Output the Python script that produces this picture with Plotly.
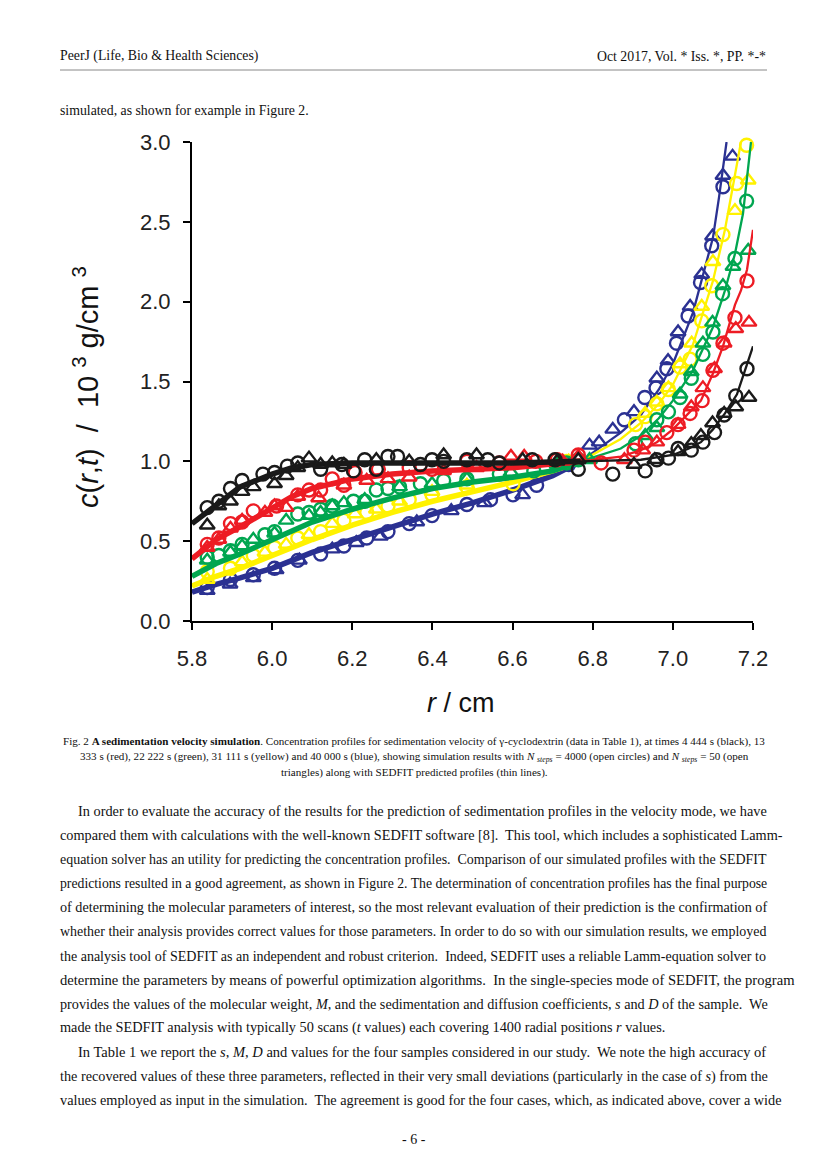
import plotly.graph_objects as go

# ---------------------------------------------------------------------------
# Data: r in cm, c in 10^3 g/cm^3
# ---------------------------------------------------------------------------
# SEDFIT predicted profiles (lines)
black_line_r = [5.80, 5.86, 5.92, 6.00, 6.05, 6.10, 6.20, 6.40, 6.60, 6.77, 6.92, 7.00, 7.04, 7.07, 7.10, 7.13, 7.16, 7.18, 7.20]
black_line_c = [0.61, 0.73, 0.84, 0.92, 0.96, 0.98, 0.99, 0.99, 0.99, 1.00, 1.01, 1.04, 1.08, 1.12, 1.20, 1.30, 1.42, 1.57, 1.72]

red_line_r = [5.80, 5.86, 5.92, 6.00, 6.05, 6.10, 6.20, 6.30, 6.40, 6.60, 6.70, 6.77, 6.87, 6.92, 6.96, 7.00, 7.04, 7.07, 7.10, 7.125, 7.155, 7.17, 7.185, 7.20]
red_line_c = [0.39, 0.51, 0.59, 0.71, 0.78, 0.83, 0.89, 0.92, 0.94, 0.96, 0.98, 1.00, 1.03, 1.07, 1.12, 1.20, 1.30, 1.38, 1.55, 1.72, 1.98, 2.07, 2.20, 2.45]

green_line_r = [5.80, 5.86, 5.92, 6.00, 6.10, 6.20, 6.30, 6.40, 6.50, 6.60, 6.70, 6.77, 6.87, 6.92, 6.965, 7.00, 7.05, 7.10, 7.13, 7.155, 7.175, 7.195]
green_line_c = [0.28, 0.36, 0.42, 0.51, 0.62, 0.70, 0.77, 0.83, 0.87, 0.90, 0.94, 1.00, 1.08, 1.16, 1.27, 1.38, 1.57, 1.84, 2.07, 2.30, 2.55, 3.00]

yellow_line_r = [5.80, 5.86, 5.92, 6.00, 6.10, 6.20, 6.30, 6.40, 6.50, 6.60, 6.70, 6.77, 6.87, 6.92, 6.965, 7.00, 7.05, 7.10, 7.13, 7.155, 7.17]
yellow_line_c = [0.22, 0.28, 0.33, 0.41, 0.51, 0.60, 0.68, 0.75, 0.81, 0.87, 0.94, 1.00, 1.14, 1.24, 1.36, 1.48, 1.73, 2.13, 2.45, 2.78, 3.00]

blue_line_r = [5.80, 5.86, 5.92, 6.00, 6.10, 6.20, 6.30, 6.40, 6.50, 6.60, 6.70, 6.77, 6.87, 6.92, 6.965, 7.00, 7.05, 7.10, 7.115, 7.134]
blue_line_c = [0.18, 0.23, 0.27, 0.33, 0.43, 0.51, 0.59, 0.67, 0.74, 0.82, 0.91, 1.00, 1.18, 1.29, 1.45, 1.61, 1.93, 2.40, 2.65, 3.00]

# N_steps = 4000 (open circles)
black_circ_r = [5.838, 5.867, 5.896, 5.925, 5.977, 6.006, 6.038, 6.064, 6.121, 6.174, 6.203, 6.231, 6.260, 6.289, 6.313, 6.370, 6.399, 6.428,
                6.486, 6.538, 6.567, 6.649, 6.706, 6.764, 6.850, 6.931, 6.960, 6.989, 7.013, 7.046, 7.075, 7.104, 7.128, 7.157, 7.185]
black_circ_c = [0.71, 0.75, 0.83, 0.88, 0.92, 0.93, 0.97, 0.99, 0.95, 0.98, 0.94, 1.01, 0.95, 1.03, 1.03, 0.98, 1.01, 1.00,
                1.01, 1.01, 0.99, 1.01, 1.01, 0.95, 0.92, 0.94, 1.01, 1.02, 1.08, 1.07, 1.12, 1.18, 1.29, 1.41, 1.58]

red_circ_r = [5.838, 5.867, 5.896, 5.925, 5.953, 6.011, 6.064, 6.092, 6.121, 6.150, 6.179, 6.207, 6.265, 6.342, 6.399, 6.486,
              6.567, 6.658, 6.711, 6.764, 6.821, 6.903, 6.931, 6.985, 7.013, 7.043, 7.073, 7.100, 7.125, 7.155, 7.185]
red_circ_c = [0.48, 0.52, 0.61, 0.62, 0.69, 0.72, 0.79, 0.82, 0.82, 0.89, 0.85, 0.93, 0.95, 0.96, 0.95, 1.00,
              0.99, 1.00, 1.01, 1.04, 0.99, 1.07, 1.12, 1.18, 1.23, 1.30, 1.38, 1.57, 1.74, 1.90, 2.13]

green_circ_r = [5.838, 5.867, 5.896, 5.925, 5.982, 6.006, 6.064, 6.092, 6.121, 6.150, 6.203, 6.231, 6.260, 6.289, 6.318, 6.370,
                6.428, 6.486, 6.567, 6.653, 6.735, 6.764, 6.907, 6.960, 6.989, 7.018, 7.046, 7.075, 7.100, 7.124, 7.155, 7.184]
green_circ_c = [0.40, 0.41, 0.44, 0.48, 0.54, 0.56, 0.67, 0.68, 0.70, 0.72, 0.75, 0.75, 0.82, 0.83, 0.84, 0.86,
                0.88, 0.89, 0.92, 0.94, 0.99, 1.01, 1.11, 1.26, 1.31, 1.40, 1.52, 1.67, 1.81, 2.05, 2.27, 2.63]

yellow_circ_r = [5.838, 5.896, 5.953, 6.006, 6.064, 6.121, 6.179, 6.236, 6.289, 6.342, 6.399, 6.486, 6.601, 6.735,
                 6.907, 6.931, 6.960, 6.989, 7.018, 7.043, 7.072, 7.097, 7.125, 7.159, 7.184]
yellow_circ_c = [0.31, 0.33, 0.41, 0.46, 0.52, 0.56, 0.63, 0.68, 0.72, 0.76, 0.79, 0.84, 0.86, 1.00,
                 1.23, 1.28, 1.36, 1.45, 1.59, 1.64, 1.88, 2.10, 2.42, 2.74, 2.98]

blue_circ_r = [5.838, 5.896, 5.953, 6.006, 6.064, 6.121, 6.179, 6.236, 6.289, 6.342, 6.399, 6.486, 6.545, 6.601, 6.660,
               6.740, 6.879, 6.930, 6.958, 6.985, 7.009, 7.038, 7.069, 7.097, 7.125]
blue_circ_c = [0.21, 0.26, 0.29, 0.33, 0.38, 0.42, 0.47, 0.52, 0.56, 0.61, 0.66, 0.73, 0.76, 0.79, 0.85,
               0.98, 1.26, 1.40, 1.46, 1.58, 1.74, 1.91, 2.12, 2.35, 2.72]

# N_steps = 50 (open triangles)
black_tri_r = [5.838, 5.867, 5.896, 5.925, 5.953, 6.006, 6.035, 6.064, 6.092, 6.121, 6.150, 6.179, 6.260, 6.342, 6.428, 6.510,
               6.625, 6.711, 6.764, 6.903, 6.955, 7.013, 7.046, 7.070, 7.099, 7.128, 7.157, 7.190]
black_tri_c = [0.60, 0.72, 0.75, 0.81, 0.84, 0.86, 0.91, 0.96, 1.02, 0.98, 0.99, 0.98, 1.01, 1.00, 1.04, 1.04,
               1.01, 1.00, 1.01, 0.98, 1.01, 1.06, 1.11, 1.16, 1.24, 1.30, 1.34, 1.40]

red_tri_r = [5.838, 5.867, 5.896, 5.925, 5.982, 6.006, 6.035, 6.064, 6.116, 6.179, 6.236, 6.289, 6.342, 6.428, 6.510,
             6.596, 6.629, 6.725, 6.764, 6.879, 6.925, 6.960, 7.013, 7.046, 7.075, 7.104, 7.128, 7.157, 7.190]
red_tri_c = [0.46, 0.51, 0.58, 0.63, 0.68, 0.72, 0.71, 0.78, 0.77, 0.85, 0.88, 0.89, 0.90, 0.94, 0.96,
             1.03, 1.03, 1.00, 1.03, 1.01, 1.07, 1.12, 1.23, 1.34, 1.46, 1.58, 1.74, 1.83, 1.87]

green_tri_r = [5.838, 5.896, 5.925, 5.953, 6.006, 6.035, 6.092, 6.121, 6.150, 6.179, 6.231, 6.318, 6.399, 6.486, 6.596,
               6.711, 6.792, 6.931, 6.960, 7.018, 7.046, 7.075, 7.099, 7.125, 7.150, 7.188]
green_tri_c = [0.38, 0.43, 0.47, 0.51, 0.55, 0.63, 0.66, 0.68, 0.72, 0.74, 0.76, 0.84, 0.86, 0.89, 0.93,
               0.98, 1.01, 1.16, 1.21, 1.42, 1.56, 1.74, 1.87, 2.10, 2.22, 2.32]

yellow_tri_r = [5.838, 5.925, 5.982, 6.035, 6.092, 6.150, 6.207, 6.260, 6.318, 6.399, 6.486, 6.740, 6.931, 6.960,
                6.989, 7.018, 7.047, 7.072, 7.100, 7.155, 7.188]
yellow_tri_c = [0.26, 0.37, 0.43, 0.48, 0.54, 0.61, 0.67, 0.70, 0.75, 0.81, 0.85, 1.00, 1.30, 1.37,
                1.46, 1.61, 1.74, 1.97, 2.25, 2.57, 2.76]

blue_tri_r = [5.838, 5.895, 5.953, 6.010, 6.068, 6.150, 6.210, 6.270, 6.361, 6.447, 6.530, 6.625, 6.792, 6.816, 6.850,
              6.903, 6.960, 6.988, 7.013, 7.043, 7.072, 7.099, 7.125, 7.149]
blue_tri_c = [0.19, 0.23, 0.27, 0.32, 0.38, 0.45, 0.49, 0.53, 0.62, 0.69, 0.74, 0.79, 1.10, 1.12, 1.20,
              1.31, 1.52, 1.63, 1.81, 1.97, 2.17, 2.41, 2.79, 2.91]

r_ticks = [5.8, 6.0, 6.2, 6.4, 6.6, 6.8, 7.0, 7.2]
c_ticks = [0.0, 0.5, 1.0, 1.5, 2.0, 2.5, 3.0]

# series drawn bottom to top
series = [
    ("#2B3192", blue_line_r, blue_line_c, blue_circ_r, blue_circ_c, blue_tri_r, blue_tri_c),
    ("#FFF200", yellow_line_r, yellow_line_c, yellow_circ_r, yellow_circ_c, yellow_tri_r, yellow_tri_c),
    ("#00A650", green_line_r, green_line_c, green_circ_r, green_circ_c, green_tri_r, green_tri_c),
    ("#ED1C24", red_line_r, red_line_c, red_circ_r, red_circ_c, red_tri_r, red_tri_c),
    ("#1A1A1A", black_line_r, black_line_c, black_circ_r, black_circ_c, black_tri_r, black_tri_c),
]

# ---------------------------------------------------------------------------
# Page geometry (the chart sits inside a paper page)
# ---------------------------------------------------------------------------
OFF = 8                 # default body margin of the html page
W, H = 827 - OFF, 1169 - OFF
PX0, PX1 = 192, 753     # plot area, page pixels
PY0, PY1 = 142, 621

SERIF = "Liberation Serif"
SANS = "Liberation Sans"


def px(x):
    return (x - PX0) / (PX1 - PX0)


def py(y):
    return (PY1 - y) / (PY1 - PY0)


fig = go.Figure()

for color, lr, lc, cr, cc, tr, tc in series:
    # noisy, thick part of the profile left of the hinge point
    band = [(r, c) for r, c in zip(lr, lc) if r <= 6.80]
    fig.add_trace(go.Scatter(
        x=[b[0] for b in band], y=[b[1] for b in band], mode="lines",
        line=dict(color=color, width=5.5),
        showlegend=False, hoverinfo="skip",
    ))
    fig.add_trace(go.Scatter(
        x=lr, y=lc, mode="lines",
        line=dict(color=color, width=2.3),
        showlegend=False, hoverinfo="skip",
    ))
    fig.add_trace(go.Scatter(
        x=cr, y=cc, mode="markers",
        marker=dict(symbol="circle-open", size=13, color=color, line=dict(width=2.4)),
        cliponaxis=False, showlegend=False,
    ))
    fig.add_trace(go.Scatter(
        x=tr, y=tc, mode="markers",
        marker=dict(symbol="triangle-up-open", size=13, color=color, line=dict(width=2.4)),
        cliponaxis=False, showlegend=False,
    ))

# --- page texts ---
annotations = []


def page_text(x, y, text, size, xanchor="left", family=SERIF, color="#111111", **kw):
    annotations.append(dict(
        x=px(x), y=py(y), xref="paper", yref="paper", text=text,
        showarrow=False, xanchor=xanchor, yanchor="middle",
        font=dict(family=family, size=size, color=color), **kw,
    ))


page_text(58, 56, "PeerJ (Life, Bio &amp; Health Sciences)", 13.8)
page_text(768, 56, "Oct 2017, Vol. * Iss. *, PP. *-*", 13.8, xanchor="right")
page_text(58, 110, "simulated, as shown for example in Figure 2.", 13.8)

# axis titles
page_text(86, 387, "<i>c</i>(<i>r</i>,<i>t</i>)  /  10 <sup>3</sup> g/cm <sup>3</sup>", 29,
          xanchor="center", family=SANS, textangle=-90)
page_text(461, 703, "<i>r</i> / cm", 27, xanchor="center", family=SANS)

caption = [
    "Fig. 2 <b>A sedimentation velocity simulation</b>. Concentration profiles for sedimentation velocity of "
    "γ-cyclodextrin (data in Table 1), at times 4 444 s (black), 13",
    "333 s (red), 22 222 s (green), 31 111 s (yellow) and 40 000 s (blue), showing simulation results with "
    "<i>N</i> <sub><i>steps</i></sub> = 4000 (open circles) and <i>N</i> <sub><i>steps</i></sub> = 50 (open",
    "triangles) along with SEDFIT predicted profiles (thin lines).",
]
for i, line in enumerate(caption):
    page_text(414, 741 + 15.5 * i, line, 11.1, xanchor="center")

# (indent, size, text) - sizes tuned per line to fill the justified measure
body = [
    (76, 14.3, "In order to evaluate the accuracy of the results for the prediction of sedimentation profiles in the velocity mode, we have"),
    (58, 14.26, "compared them with calculations with the well-known SEDFIT software [8].  This tool, which includes a sophisticated Lamm-"),
    (58, 13.96, "equation solver has an utility for predicting the concentration profiles.  Comparison of our simulated profiles with the SEDFIT"),
    (58, 13.72, "predictions resulted in a good agreement, as shown in Figure 2. The determination of concentration profiles has the final purpose"),
    (58, 14.2, "of determining the molecular parameters of interest, so the most relevant evaluation of their prediction is the confirmation of"),
    (58, 13.96, "whether their analysis provides correct values for those parameters. In order to do so with our simulation results, we employed"),
    (58, 14.04, "the analysis tool of SEDFIT as an independent and robust criterion.  Indeed, SEDFIT uses a reliable Lamm-equation solver to"),
    (58, 14.6, "determine the parameters by means of powerful optimization algorithms.  In the single-species mode of SEDFIT, the program"),
    (58, 14.22, "provides the values of the molecular weight, <i>M</i>, and the sedimentation and diffusion coefficients, <i>s</i> and <i>D</i> of the sample.  We"),
    (58, 14.3, "made the SEDFIT analysis with typically 50 scans (<i>t</i> values) each covering 1400 radial positions <i>r</i> values."),
    (76, 14.5, "In Table 1 we report the <i>s</i>, <i>M</i>, <i>D</i> and values for the four samples considered in our study.  We note the high accuracy of"),
    (58, 14.22, "the recovered values of these three parameters, reflected in their very small deviations (particularly in the case of <i>s</i>) from the"),
    (58, 14.28, "values employed as input in the simulation.  The agreement is good for the four cases, which, as indicated above, cover a wide"),
]
for i, (x0, size, line) in enumerate(body):
    page_text(x0, 811 + 24.1 * i, line, size)

page_text(414, 1139, "- 6 -", 14, xanchor="center")

fig.update_layout(
    width=W, height=H,
    margin=dict(l=PX0 - OFF, r=W - (PX1 - OFF), t=PY0 - OFF, b=H - (PY1 - OFF)),
    paper_bgcolor="white", plot_bgcolor="white",
    showlegend=False,
    annotations=annotations,
    shapes=[dict(type="line", xref="paper", yref="paper",
                 x0=px(60), x1=px(767), y0=py(70), y1=py(70),
                 line=dict(color="#888888", width=1))],
)
fig.update_xaxes(
    range=[5.8, 7.2], tickvals=r_ticks, tickformat=".1f",
    showline=True, linecolor="black", linewidth=2,
    ticks="outside", ticklen=7, tickwidth=1.5, tickcolor="black",
    showgrid=False, zeroline=False, ticklabelstandoff=10,
    tickfont=dict(family=SANS, size=22, color="#222222"),
)
fig.update_yaxes(
    range=[0, 3.0], tickvals=c_ticks, tickformat=".1f",
    showline=True, linecolor="black", linewidth=2,
    ticks="outside", ticklen=7, tickwidth=1.5, tickcolor="black",
    showgrid=False, zeroline=False, ticklabelstandoff=8,
    tickfont=dict(family=SANS, size=22, color="#222222"),
)

fig.write_html("out.html")
